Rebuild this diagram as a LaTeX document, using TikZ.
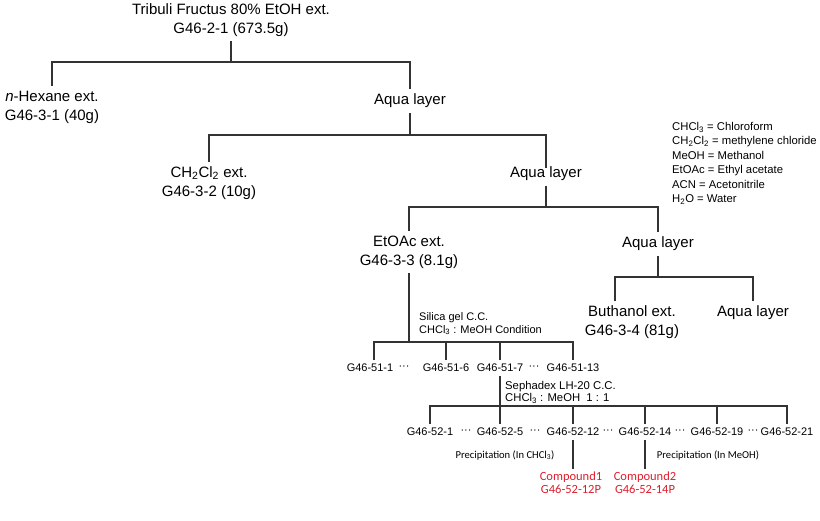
\documentclass[tikz,border=0pt]{standalone}
\usepackage{fontspec}
\setmainfont{Liberation Sans}
\newfontfamily\notefont{Carlito}
\definecolor{cpdred}{RGB}{222,30,45}
\begin{document}
\begin{tikzpicture}[x=1pt, y=-1pt]
\tikzstyle{big}=[font=\fontsize{15}{19}\selectfont, align=center, inner sep=2pt, outer sep=3pt]
\tikzstyle{small}=[font=\fontsize{11}{13}\selectfont, inner sep=1pt, outer sep=3pt]
\tikzstyle{cond}=[font=\fontsize{11}{13}\selectfont, align=left, anchor=north west, inner sep=0pt]
\tikzstyle{note}=[font=\notefont\fontsize{10.6}{12}\selectfont, inner sep=1pt]
\tikzstyle{result}=[font=\notefont\fontsize{12.5}{13}\selectfont, text=cpdred, align=center, inner sep=1pt, outer sep=2pt]
\tikzstyle{link}=[draw=black!80, line width=1.1pt]
\useasboundingbox (0,0) rectangle (820,520);
% solvent partition
\node[big] (tribuli) at (231,20) {Tribuli Fructus 80\% EtOH ext.\\G46-2-1 (673.5g)};
\node[big] (hexane) at (52,107) {\textit{n}-Hexane ext.\\G46-3-1 (40g)};
\node[big] (aqua1) at (410,101) {Aqua layer};
\node[big] (ch2cl2) at (209,183) {CH\textsubscript{2}Cl\textsubscript{2} ext.\\G46-3-2 (10g)};
\node[big] (aqua2) at (546,174) {Aqua layer};
\node[big] (etoac) at (409,252) {EtOAc ext.\\G46-3-3 (8.1g)};
\node[big] (aqua3) at (658,244) {Aqua layer};
\node[big] (butoh) at (632,322) {Buthanol ext.\\G46-3-4 (81g)};
\node[big] (aqua4) at (753,313) {Aqua layer};
\coordinate (j1) at (231,62);
\coordinate (j2) at (410,135);
\coordinate (j3) at (546,207);
\coordinate (j4) at (409,342);
\coordinate (j6) at (658,277);
\draw[link] (tribuli.south) -- (j1);
\draw[link] (hexane.north) |- (j1) -| (aqua1.north);
\draw[link] (aqua1.south) -- (j2);
\draw[link] (ch2cl2.north) |- (j2) -| ([yshift=-6pt]aqua2.north);
\draw[link] (aqua2.south) -- (j3);
\draw[link] (etoac.north) |- (j3) -| (aqua3.north);
\draw[link] (aqua3.south) -- (j6);
\draw[link] ([xshift=-17pt]butoh.north) |- (j6) -| (aqua4.north);
% legend
\node[cond, font=\fontsize{11.3}{14.5}\selectfont] (legend) at (672,122) {CHCl\textsubscript{3} = Chloroform\\CH\textsubscript{2}Cl\textsubscript{2} = methylene chloride\\MeOH = Methanol\\EtOAc = Ethyl acetate\\ACN = Acetonitrile\\H\textsubscript{2}O = Water};
% silica gel column
\node[cond] (silica) at (419,312) {Silica gel C.C.\\CHCl\textsubscript{3} : MeOH Condition};
\node[small] (f511) at (370,368) {G46-51-1};
\node[small] (d1) at (404,368) {\textperiodcentered\textperiodcentered\textperiodcentered};
\node[small] (f516) at (446,368) {G46-51-6};
\node[small] (f517) at (500,368) {G46-51-7};
\node[small] (d2) at (534,368) {\textperiodcentered\textperiodcentered\textperiodcentered};
\node[small] (f5113) at (573,368) {G46-51-13};
\draw[link] (etoac.south) -- (j4);
\draw[link] ([xshift=4pt]f511.north) |- (j4) -| (f5113.north);
\draw[link] (f516.north) -- (f516.north |- j4);
\draw[link] (f517.north) -- (f517.north |- j4);
% sephadex column
\node[cond, font=\fontsize{11.3}{12}\selectfont] (sepha) at (505,381) {Sephadex LH-20 C.C.\\CHCl\textsubscript{3} : MeOH\ \ 1 : 1};
\coordinate (j5) at (500,406);
\node[small] (f521) at (430,432) {G46-52-1};
\node[small] (d3) at (466,432) {\textperiodcentered\textperiodcentered\textperiodcentered};
\node[small] (f525) at (500,432) {G46-52-5};
\node[small] (d4) at (535,432) {\textperiodcentered\textperiodcentered\textperiodcentered};
\node[small] (f5212) at (573,432) {G46-52-12};
\node[small] (d5) at (608,432) {\textperiodcentered\textperiodcentered\textperiodcentered};
\node[small] (f5214) at (645,432) {G46-52-14};
\node[small] (d6) at (680,432) {\textperiodcentered\textperiodcentered\textperiodcentered};
\node[small] (f5219) at (717,432) {G46-52-19};
\node[small] (d7) at (753,432) {\textperiodcentered\textperiodcentered\textperiodcentered};
\node[small] (f5221) at (787,432) {G46-52-21};
\draw[link] (f517.south) -- (f525.north);
\draw[link] (f521.north) |- (j5) -| (f5221.north);
\draw[link] (f5212.north) -- (f5212.north |- j5);
\draw[link] (f5214.north) -- (f5214.north |- j5);
\draw[link] (f5219.north) -- (f5219.north |- j5);
% precipitation
\node[note] (prec1) at (505,455) {Precipitation (In CHCl\textsubscript{3})};
\node[note] (prec2) at (708,455) {Precipitation (In MeOH)};
\node[result] (cpd1) at (571,483) {Compound1\\G46-52-12P};
\node[result] (cpd2) at (645,483) {Compound2\\G46-52-14P};
\draw[link] (f5212.south) -- (f5212.south |- cpd1.north);
\draw[link] (f5214.south) -- (f5214.south |- cpd2.north);
\end{tikzpicture}
\end{document}
